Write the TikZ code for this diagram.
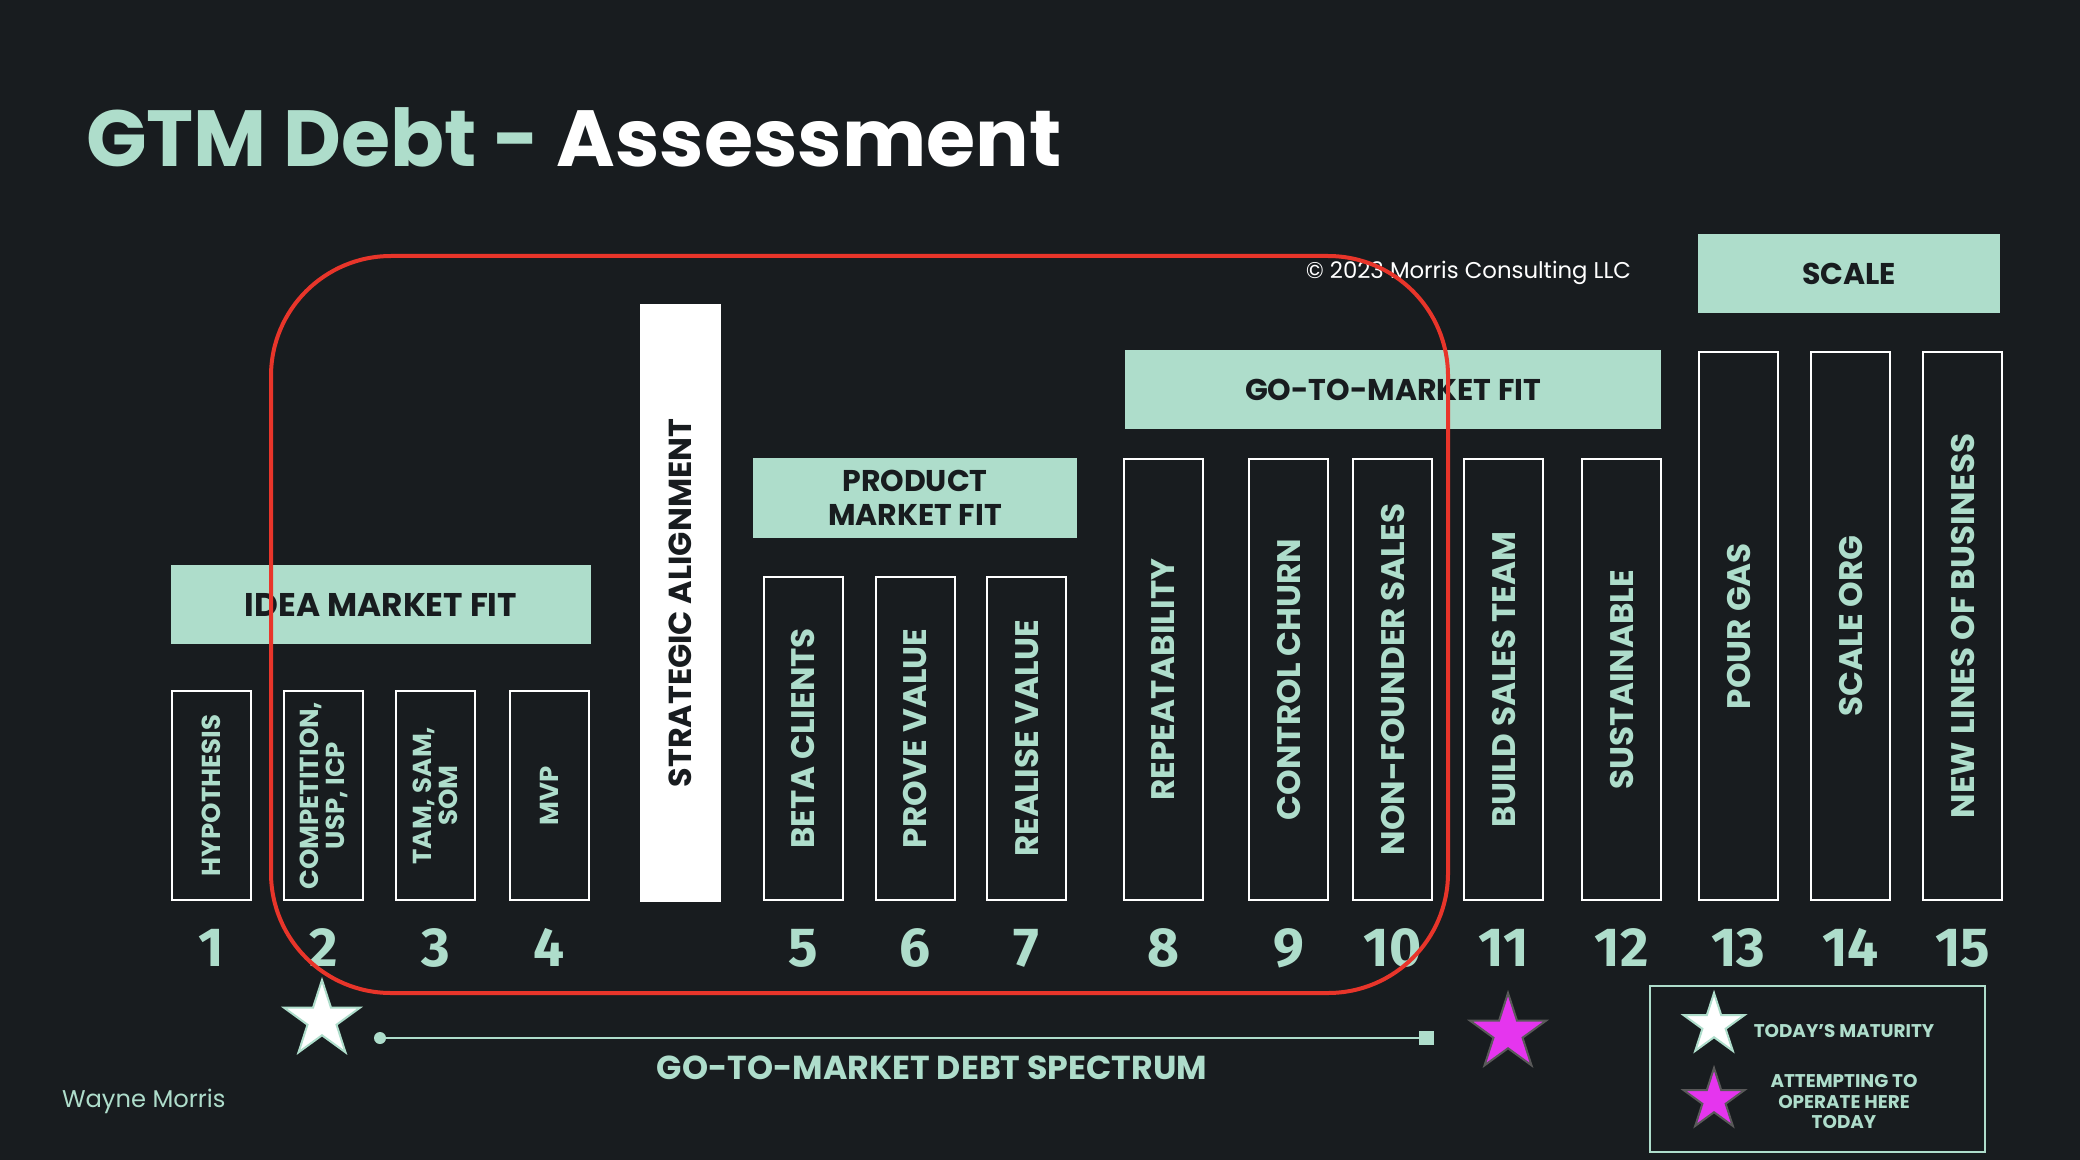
\documentclass[tikz,border=0pt]{standalone}
\usepackage{fontspec}
\setmainfont{Poppins}
\newfontfamily\firafont{Fira Sans}
\usetikzlibrary{shapes.geometric}

\definecolor{bg}{HTML}{181C1F}
\definecolor{mint}{HTML}{AEDDCB}
\definecolor{alarm}{HTML}{E8352A}
\definecolor{magentastar}{HTML}{E535EE}

\begin{document}
\begin{tikzpicture}[x=0.5pt, y=-0.5pt,
	every node/.style={inner sep=0pt, outer sep=0pt},
	stage/.style={draw=white, line width=1pt, rotate=90, text=mint, align=center, minimum height=39.5pt, font=\bfseries\fontsize{16.3}{17}\selectfont},
	smallstage/.style={stage, font=\bfseries\fontsize{13}{13}\selectfont},
	phase/.style={fill=mint, text=bg, align=center, font=\bfseries\fontsize{15}{17}\selectfont},
	stepnum/.style={text=mint, anchor=base, font=\firafont\bfseries\fontsize{27.5}{30}\selectfont},
	starmark/.style={star, star points=5, star point ratio=2.618, line width=1pt}]
	\fill[bg] (0,0) rectangle (2080,1160);
	\useasboundingbox (0,0) rectangle (2080,1160);

	% title and credits
	\node[anchor=base west, font=\bfseries\fontsize{39.8}{44}\selectfont] (title) at (86,167) {\textcolor{mint}{GTM Debt -} \textcolor{white}{Assessment}};
	\node[anchor=base east, text=white, font=\fontsize{11.4}{13}\selectfont] (copy) at (1631,279) {\textcopyright{} 2023 Morris Consulting LLC};
	\node[anchor=base west, text=mint, font=\fontsize{12.1}{14}\selectfont] (author) at (62,1107) {Wayne Morris};

	% phase headers
	\node[phase, minimum width=210pt, minimum height=39.5pt, font=\bfseries\fontsize{16.4}{18}\selectfont] (idea) at (381,604.5) {IDEA MARKET FIT};
	\node[phase, minimum width=162pt, minimum height=40pt] (pmf) at (915,498) {PRODUCT\\MARKET FIT};
	\node[phase, minimum width=268pt, minimum height=39.5pt] (gtm) at (1393,389.5) {GO-TO-MARKET FIT};
	\node[phase, minimum width=151pt, minimum height=39.5pt] (scale) at (1849,273.5) {SCALE};

	% stages
	\node[stage, fill=white, text=bg, font=\bfseries\fontsize{15.9}{17}\selectfont, minimum width=298pt] (strat) at (680.5,603) {STRATEGIC ALIGNMENT};
	\node[smallstage, minimum width=104.5pt] (s1) at (211.5,795.5) {HYPOTHESIS};
	\node[smallstage, minimum width=104.5pt] (s2) at (323.5,795.5) {COMPETITION,\\USP, ICP};
	\node[smallstage, minimum width=104.5pt] (s3) at (435.5,795.5) {TAM, SAM,\\SOM};
	\node[smallstage, minimum width=104.5pt] (s4) at (549.5,795.5) {MVP};
	\node[stage, minimum width=161.5pt] (s5) at (803,738.5) {BETA CLIENTS};
	\node[stage, minimum width=161.5pt] (s6) at (915,738.5) {PROVE VALUE};
	\node[stage, minimum width=161.5pt] (s7) at (1026.5,738.5) {REALISE VALUE};
	\node[stage, minimum width=220.5pt] (s8) at (1163.5,679.5) {REPEATABILITY};
	\node[stage, minimum width=220.5pt] (s9) at (1288.5,679.5) {CONTROL CHURN};
	\node[stage, minimum width=220.5pt] (s10) at (1392.5,679.5) {NON-FOUNDER SALES};
	\node[stage, minimum width=220.5pt] (s11) at (1503.5,679.5) {BUILD SALES TEAM};
	\node[stage, minimum width=220.5pt] (s12) at (1621.5,679.5) {SUSTAINABLE};
	\node[stage, minimum width=274pt] (s13) at (1738.5,626) {POUR GAS};
	\node[stage, minimum width=274pt] (s14) at (1850.5,626) {SCALE ORG};
	\node[stage, minimum width=274pt] (s15) at (1962.5,626) {NEW LINES OF BUSINESS};

	\foreach \i in {1,...,15}
		\node[stepnum] (n\i) at (s\i.center |- 0,966) {\i};

	% spectrum
	\node[circle, fill=mint, minimum size=6pt] (specstart) at (380,1038) {};
	\node[fill=mint, minimum width=7.5pt, minimum height=7pt] (specend) at (1426.5,1038) {};
	\draw[mint, line width=1.3pt] (specstart) -- (specend);
	\node[anchor=base, text=mint, font=\bfseries\fontsize{16.6}{18}\selectfont] (speclabel) at (932,1079) {GO-TO-MARKET DEBT SPECTRUM};
	\node[starmark, fill=white, draw=mint, minimum size=40pt] (today) at (322,1020) {};
	\node[starmark, fill=magentastar, draw=gray!70!black, minimum size=40pt] (target) at (1508,1033) {};

	\draw[alarm, line width=2pt, rounded corners=60pt] (271,256) rectangle (1448,993);

	% legend
	\node[draw=mint, line width=1pt, minimum width=167.5pt, minimum height=83pt] (legend) at (1817.5,1069) {};
	\node[starmark, fill=white, draw=mint, minimum size=32pt] (legtoday) at (1714,1025) {};
	\node[starmark, fill=magentastar, draw=gray!70!black, minimum size=32pt] (legtarget) at (1714,1100) {};
	\node[text=mint, font=\bfseries\fontsize{9.2}{10.25}\selectfont] (legtodaytext) at (1844,1031) {TODAY’S MATURITY};
	\node[text=mint, align=center, font=\bfseries\fontsize{9.2}{10.25}\selectfont] (legtargettext) at (1844,1102) {ATTEMPTING TO\\OPERATE HERE\\TODAY};
\end{tikzpicture}
\end{document}
